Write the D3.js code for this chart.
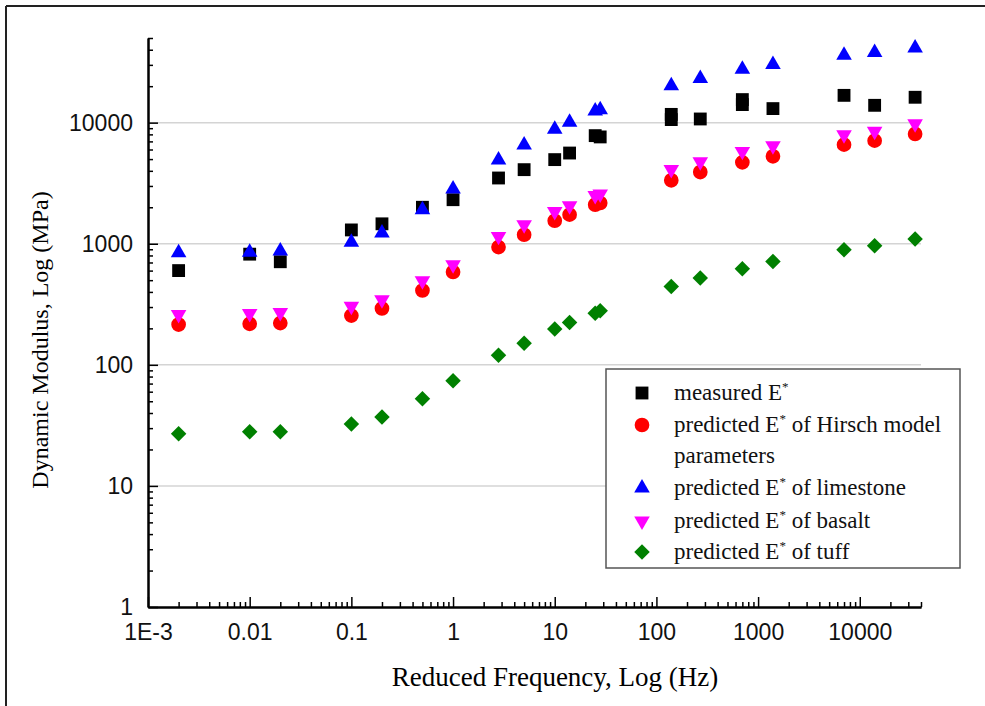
<!DOCTYPE html>
<html>
<head>
<meta charset="utf-8">
<script src="https://cdn.jsdelivr.net/npm/d3@7"></script>
<style>
  body { margin: 0; background: #fff; }
  svg { display: block; }
</style>
</head>
<body>
<script>
// reduced frequency (Hz) shared by the predicted series
var freq = [0.002, 0.01, 0.02, 0.1, 0.2, 0.5, 1, 2.8, 5, 10, 14, 25, 28, 140, 270, 700, 1400, 7000, 14000, 35000];

// measured E* has two repeats at 140 and 700 Hz
var measuredFreq = [0.002, 0.01, 0.02, 0.1, 0.2, 0.5, 1, 2.8, 5, 10, 14, 25, 28, 140, 140, 270, 700, 700, 1400, 7000, 14000, 35000];
var measured = [600, 820, 710, 1300, 1460, 2000, 2310, 3490, 4090, 4950, 5610, 7810, 7620, 11700, 10600, 10720, 15500, 14100, 13060, 16800, 13900, 16200];

var hirsch = [215, 218, 221, 255, 292, 411, 584, 938, 1186, 1548, 1738, 2100, 2170, 3340, 3910, 4700, 5270, 6580, 7100, 8060];
var limestone = [843, 850, 870, 1030, 1226, 1905, 2832, 4920, 6535, 8810, 10060, 12500, 12800, 20200, 23200, 27600, 30200, 36000, 37900, 41400];
var basalt = [260, 265, 270, 305, 345, 494, 671, 1150, 1437, 1849, 2060, 2506, 2570, 4100, 4760, 5790, 6450, 7960, 8480, 9800];
var tuff = [27, 28, 28, 32.4, 37, 52.4, 73.8, 120, 151, 198, 224, 267, 279, 444, 520, 621, 714, 892, 962, 1094];

var xTicks = [1e-3, 0.01, 0.1, 1, 10, 100, 1000, 10000];
var xTickLabels = ["1E-3", "0.01", "0.1", "1", "10", "100", "1000", "10000"];
var yTicks = [1, 10, 100, 1000, 10000];
var yTickLabels = ["1", "10", "100", "1000", "10000"];

var width = 985,
    height = 706;

var svg = d3.select("body")
    .append("svg")
    .attr("width", width)
    .attr("height", height);

var x = d3.scaleLog().domain([1e-3, 4e4]).range([148, 921]);
var y = d3.scaleLog().domain([1, 5e4]).range([607, 38]);

// frame (only top and left edges show in the picture)
svg.append("line").attr("x1", 6).attr("x2", width).attr("y1", 6).attr("y2", 6)
    .attr("stroke", "#222").attr("stroke-width", 2);
svg.append("line").attr("x1", 6).attr("x2", 6).attr("y1", 6).attr("y2", height)
    .attr("stroke", "#222").attr("stroke-width", 2);

// horizontal grid
svg.append("g")
    .selectAll("line")
    .data(yTicks.slice(1))
    .enter().append("line")
    .attr("x1", x.range()[0])
    .attr("x2", x.range()[1])
    .attr("y1", function(d) { return y(d); })
    .attr("y2", function(d) { return y(d); })
    .attr("stroke", "#d4d4d4")
    .attr("stroke-width", 1.5);

function isPow10(v) {
    var l = Math.log10(v);
    return Math.abs(l - Math.round(l)) < 1e-9;
}
var xMinor = x.ticks(10).filter(function(d) { return !isPow10(d); });
var yMinor = y.ticks(10).filter(function(d) { return !isPow10(d); });

var tickFont = "'Liberation Sans', Arial, sans-serif";

// x axis
var gx = svg.append("g").attr("transform", "translate(0," + y.range()[0] + ")");
gx.call(d3.axisBottom(x).tickValues(xMinor).tickSizeInner(-5).tickSizeOuter(0).tickFormat(""));
gx.append("g").call(d3.axisBottom(x).tickValues(xTicks).tickSizeInner(-10).tickSizeOuter(0)
    .tickPadding(17).tickFormat(function(d, i) { return xTickLabels[i]; }));

// y axis
var gy = svg.append("g").attr("transform", "translate(" + x.range()[0] + ",0)");
gy.call(d3.axisLeft(y).tickValues(yMinor).tickSizeInner(-5).tickSizeOuter(0).tickFormat(""));
gy.append("g").call(d3.axisLeft(y).tickValues(yTicks).tickSizeInner(-10).tickSizeOuter(0)
    .tickPadding(15).tickFormat(function(d, i) { return yTickLabels[i]; }));

svg.selectAll(".domain").attr("stroke", "#000").attr("stroke-width", 2);
svg.selectAll(".tick line").attr("stroke", "#000").attr("stroke-width", 1.5);
svg.selectAll(".tick text")
    .attr("font-family", tickFont)
    .attr("font-size", 23)
    .attr("fill", "#111");

// axis titles
var titleFont = "'Liberation Serif', 'Times New Roman', serif";
svg.append("text")
    .attr("x", 555)
    .attr("y", 686)
    .attr("text-anchor", "middle")
    .attr("font-family", titleFont)
    .attr("font-size", 27)
    .text("Reduced Frequency, Log (Hz)");

svg.append("text")
    .attr("transform", "translate(48,340) rotate(-90)")
    .attr("text-anchor", "middle")
    .attr("font-family", titleFont)
    .attr("font-size", 24)
    .text("Dynamic Modulus, Log (MPa)");

// marker shapes
var series = [
    {name: "measured", xs: measuredFreq, ys: measured, color: "#000000", sym: d3.symbolSquare, size: 165, rot: 0},
    {name: "hirsch", xs: freq, ys: hirsch, color: "#ff0000", sym: d3.symbolCircle, size: 170, rot: 0},
    {name: "limestone", xs: freq, ys: limestone, color: "#0000ff", sym: d3.symbolTriangle, size: 105, rot: 0},
    {name: "basalt", xs: freq, ys: basalt, color: "#ff00ff", sym: d3.symbolTriangle, size: 105, rot: 180},
    {name: "tuff", xs: freq, ys: tuff, color: "#008000", sym: d3.symbolSquare, size: 120, rot: 45}
];

series.forEach(function(s) {
    var path = d3.symbol().type(s.sym).size(s.size)();
    svg.append("g")
        .attr("class", "series-" + s.name)
        .selectAll("path")
        .data(s.ys)
        .enter().append("path")
        .attr("d", path)
        .attr("transform", function(d, i) {
            return "translate(" + x(s.xs[i]) + "," + y(d) + ") rotate(" + s.rot + ")";
        })
        .attr("fill", s.color);
});

// legend
var legendLabels = [
    ["measured E", "*", ""],
    ["predicted E", "*", " of Hirsch model"],
    ["predicted E", "*", " of limestone"],
    ["predicted E", "*", " of basalt"],
    ["predicted E", "*", " of tuff"]
];
var legendRows = [393, 425, 488, 521, 552];

var legend = svg.append("g");
legend.append("rect")
    .attr("x", 606)
    .attr("y", 369)
    .attr("width", 354)
    .attr("height", 199)
    .attr("fill", "#fff")
    .attr("stroke", "#555")
    .attr("stroke-width", 1.5);

series.forEach(function(s, i) {
    var ry = legendRows[i];
    legend.append("path")
        .attr("d", d3.symbol().type(s.sym).size(s.size)())
        .attr("transform", "translate(642," + ry + ") rotate(" + s.rot + ")")
        .attr("fill", s.color);
    var t = legend.append("text")
        .attr("x", 674)
        .attr("y", ry + 7)
        .attr("font-family", titleFont)
        .attr("font-size", 23)
        .attr("fill", "#111");
    t.append("tspan").text(legendLabels[i][0]);
    t.append("tspan").attr("dy", -9).attr("font-size", 13).text(legendLabels[i][1]);
    t.append("tspan").attr("dy", 9).text(legendLabels[i][2]);
});
legend.append("text")
    .attr("x", 674)
    .attr("y", 456 + 7)
    .attr("font-family", titleFont)
    .attr("font-size", 23)
    .attr("fill", "#111")
    .text("parameters");
</script>
</body>
</html>
